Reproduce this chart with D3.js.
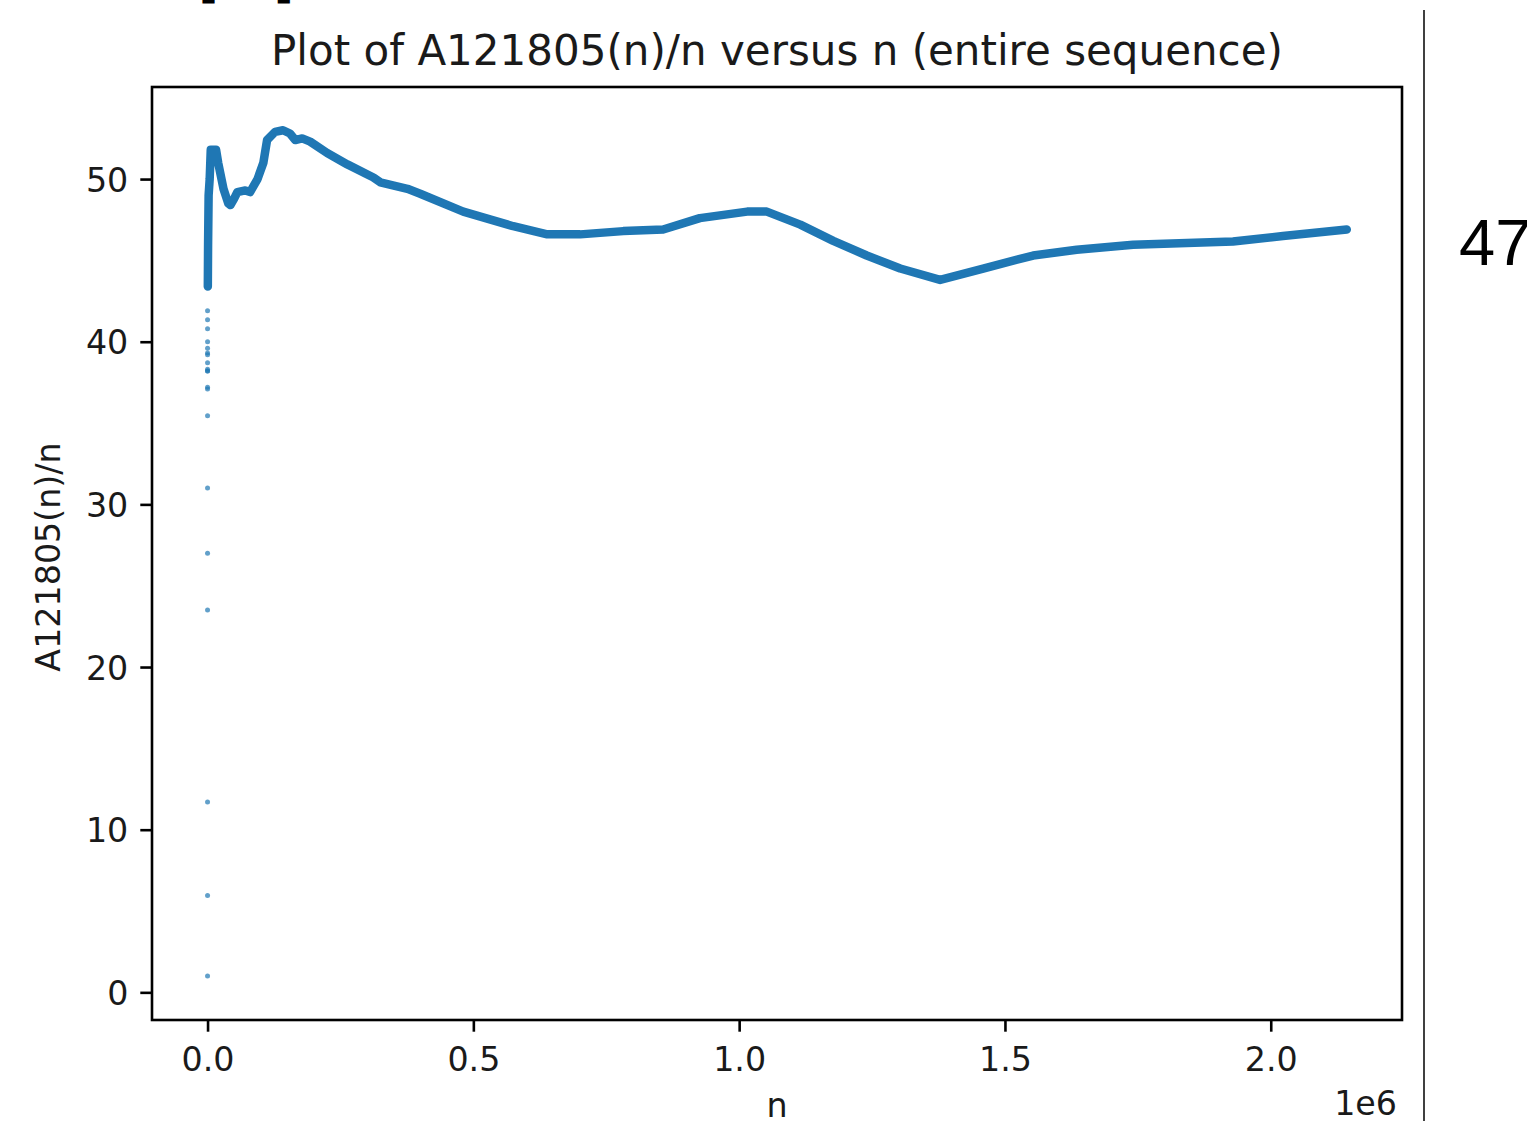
<html lang="en">
<head>
  <meta charset="UTF-8">
  <title>A121805(n)/n</title>
  <script src="https://d3js.org/d3.v7.min.js"></script>
  <style>
    body { margin: 0; background: #fff; }
    text { font-family: "DejaVu Sans", sans-serif; fill: #1a1a1a; }
  </style>
</head>
<body>
<div id="chart"></div>
<script>

// first terms, drawn as loose dots (n, A121805(n)/n)
const early_n = [1, 2, 3, 4, 5, 6, 7, 8, 9, 10, 11, 12, 13, 14, 15, 16, 17, 18, 19, 20];
const early_ratio = [1.0, 5.95, 11.7, 23.5, 27.0, 31.0, 35.45, 41.35, 38.2, 38.7, 41.9, 39.6, 40.8, 38.2, 39.3, 37.2, 38.3, 37.1, 39.2, 40.0];

// the rest of the sequence (n in millions)
const seq_n = [0.0005, 0.001, 0.002, 0.004, 0.006, 0.016, 0.020, 0.025, 0.030, 0.039, 0.043, 0.050, 0.056, 0.071, 0.080,
  0.094, 0.105, 0.112, 0.127, 0.142, 0.155, 0.165, 0.178, 0.193, 0.225, 0.263, 0.312, 0.325, 0.376, 0.400,
  0.481, 0.575, 0.639, 0.701, 0.782, 0.857, 0.926, 1.015, 1.052, 1.115, 1.177, 1.240, 1.303, 1.378,
  1.459, 1.553, 1.635, 1.741, 1.929, 2.023, 2.143];
const seq_ratio = [43.4, 46.0, 49.0, 50.0, 51.8, 51.8, 51.0, 50.2, 49.4, 48.5, 48.4, 48.8, 49.2, 49.3, 49.2,
  50.0, 51.0, 52.4, 52.9, 53.0, 52.8, 52.4, 52.5, 52.3, 51.6, 50.9, 50.1, 49.8, 49.4, 49.1,
  48.0, 47.1, 46.6, 46.6, 46.8, 46.9, 47.6, 48.0, 48.0, 47.2, 46.2, 45.3, 44.5, 43.8,
  44.5, 45.3, 45.65, 45.96, 46.16, 46.5, 46.9];

const x_ticks = [0, 0.5e6, 1.0e6, 1.5e6, 2.0e6];
const y_ticks = [0, 10, 20, 30, 40, 50];

const svg = d3.select("#chart")
  .append("svg")
  .attr("width", 1527)
  .attr("height", 1121);

var x_scale = d3.scaleLinear()
  .domain([-0.1045e6, 2.2469e6])
  .range([152, 1402]);

var y_scale = d3.scaleLinear()
  .domain([-1.70, 55.66])
  .range([1020, 87]);

// bits of the notebook around the figure
svg.append("text")
  .attr("x", 199).attr("y", -2.5)
  .style("font-size", "40px").style("font-weight", "bold").style("fill", "#000")
  .text("[");
svg.append("text")
  .attr("x", 275).attr("y", -2.5)
  .style("font-size", "40px").style("font-weight", "bold").style("fill", "#000")
  .text("]");

svg.append("line")
  .attr("x1", 1424).attr("x2", 1424)
  .attr("y1", 10).attr("y2", 1121)
  .attr("stroke", "#000")
  .attr("stroke-width", 1.5);

svg.append("text")
  .attr("x", 1459).attr("y", 265)
  .style("font-family", "'Liberation Sans', Arial, sans-serif")
  .style("font-size", "65px").style("fill", "#000")
  .text("47");

// axes
var x_axis = d3.axisBottom(x_scale)
  .tickValues(x_ticks)
  .tickFormat(d => (d / 1e6).toFixed(1))
  .tickSize(11.7)
  .tickSizeOuter(0)
  .tickPadding(16);

svg.append("g")
  .attr("transform", "translate(0, 1020)")
  .call(x_axis)
  .call(g => g.select(".domain").remove())
  .call(g => g.selectAll("line").attr("stroke", "#000").attr("stroke-width", 2.6))
  .call(g => g.selectAll("text").style("font-size", "33.3px").attr("fill", "#1a1a1a"));

var y_axis = d3.axisLeft(y_scale)
  .tickValues(y_ticks)
  .tickSize(11.7)
  .tickSizeOuter(0)
  .tickPadding(12);

svg.append("g")
  .attr("transform", "translate(152, 0)")
  .call(y_axis)
  .call(g => g.select(".domain").remove())
  .call(g => g.selectAll("line").attr("stroke", "#000").attr("stroke-width", 2.6))
  .call(g => g.selectAll("text").style("font-size", "33.3px").attr("fill", "#1a1a1a").attr("dy", "0.36em"));

// data
const seq = seq_n.map((n, i) => ({ n: n * 1e6, v: seq_ratio[i] }));
const early = early_n.map((n, i) => ({ n: n, v: early_ratio[i] }));

svg.append("path")
  .datum(seq)
  .attr("fill", "none")
  .attr("stroke", "#1f77b4")
  .attr("stroke-width", 8.5)
  .attr("stroke-linejoin", "round")
  .attr("stroke-linecap", "round")
  .attr("d", d3.line().x(d => x_scale(d.n)).y(d => y_scale(d.v)));

svg.append("g")
  .selectAll("circle")
  .data(early)
  .enter()
  .append("circle")
    .attr("cx", d => x_scale(d.n))
    .attr("cy", d => y_scale(d.v))
    .attr("r", 2.5)
    .style("fill", "#1f77b4")
    .style("opacity", 0.7);

// frame
svg.append("rect")
  .attr("x", 152).attr("y", 87)
  .attr("width", 1250).attr("height", 933)
  .attr("fill", "none")
  .attr("stroke", "#000")
  .attr("stroke-width", 2.6);

// labels
svg.append("text")
  .attr("x", 777).attr("y", 65)
  .attr("text-anchor", "middle")
  .style("font-size", "42px")
  .text("Plot of A121805(n)/n versus n (entire sequence)");

svg.append("text")
  .attr("x", 777).attr("y", 1117)
  .attr("text-anchor", "middle")
  .style("font-size", "33.3px")
  .text("n");

svg.append("text")
  .attr("x", 1397).attr("y", 1115)
  .attr("text-anchor", "end")
  .style("font-size", "33.3px")
  .text("1e6");

svg.append("text")
  .attr("transform", "translate(60, 557) rotate(-90)")
  .attr("text-anchor", "middle")
  .style("font-size", "33.3px")
  .text("A121805(n)/n")
;

</script>
</body>
</html>
